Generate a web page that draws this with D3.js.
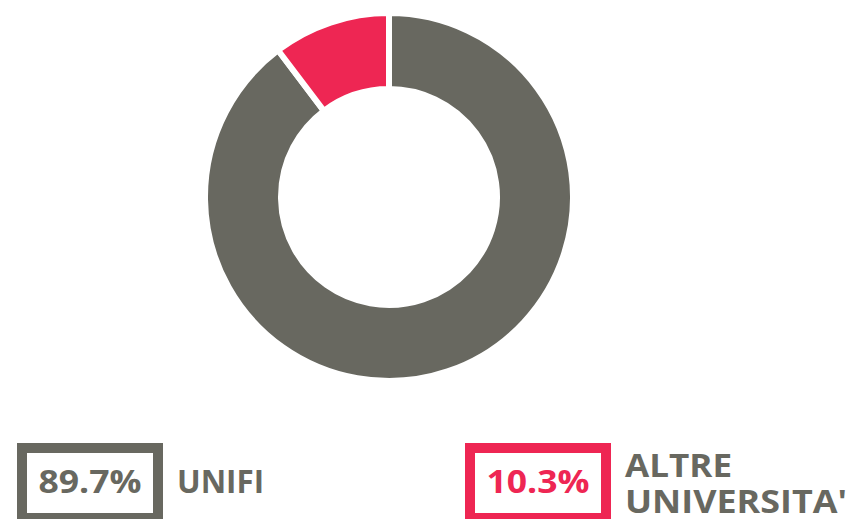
<!DOCTYPE html>
<html>
<head>
<meta charset="utf-8">
<script src="https://cdn.jsdelivr.net/npm/d3@7"></script>
<style>
  body { margin: 0; background: #fff; }
  svg { display: block; font-family: "Open Sans", sans-serif; font-weight: 700; }
</style>
</head>
<body>
<div id="chart"></div>
<script>
var categories = ["UNIFI", "ALTRE UNIVERSITA'"];
var labelLines = [["UNIFI"], ["ALTRE", "UNIVERSITA'"]];
var values = [89.7, 10.3];
var colors = ["#686860", "#ee2653"];

var w = 855, h = 519;
var cx = 389, cy = 197;          // centro ciambella
var rOut = 184, rIn = 108;

// larghezze delle righe misurate sul riferimento (font più largo)
var lineWidth = { "UNIFI": 87, "ALTRE": 107, "UNIVERSITA'": 222 };

var svg = d3.select("#chart").append("svg")
    .attr("width", w)
    .attr("height", h);

var pie = d3.pie().sort(null).value(function(d) { return d; });
var arc = d3.arc().innerRadius(rIn).outerRadius(rOut);

// fette
svg.append("g")
    .attr("transform", "translate(" + cx + "," + cy + ")")
    .selectAll("path")
    .data(pie(values))
    .enter()
    .append("path")
    .attr("d", arc)
    .attr("fill", function(d, i) { return colors[i]; })
    .attr("stroke", "#fff")
    .attr("stroke-width", 6);

// legenda
var legX = d3.scalePoint().domain(categories).range([22, 470]);
var boxW = 136, boxH = 70;

var leg = svg.selectAll("g.leg")
    .data(categories)
    .enter()
    .append("g")
    .attr("class", "leg")
    .attr("transform", function(d) { return "translate(" + legX(d) + ",448)"; });

leg.append("rect")
    .attr("width", boxW)
    .attr("height", boxH)
    .attr("fill", "none")
    .attr("stroke", function(d, i) { return colors[i]; })
    .attr("stroke-width", 10);

leg.append("text")
    .attr("x", boxW / 2)
    .attr("y", 45)
    .attr("text-anchor", "middle")
    .attr("font-size", "32px")
    .attr("fill", function(d, i) { return colors[i]; })
    .attr("textLength", 103)
    .attr("lengthAdjust", "spacingAndGlyphs")
    .text(function(d, i) { return values[i].toFixed(1) + "%"; });

leg.each(function(d, i) {
    var lines = labelLines[i];
    var y0 = lines.length === 1 ? 45 : 29;
    d3.select(this).selectAll("text.lab")
        .data(lines)
        .enter()
        .append("text")
        .attr("class", "lab")
        .attr("x", 155)
        .attr("y", function(l, j) { return y0 + j * 36; })
        .attr("font-size", "32px")
        .attr("fill", colors[0])
        .attr("textLength", function(l) { return lineWidth[l]; })
        .attr("lengthAdjust", "spacingAndGlyphs")
        .text(function(l) { return l; });
});
</script>
</body>
</html>
